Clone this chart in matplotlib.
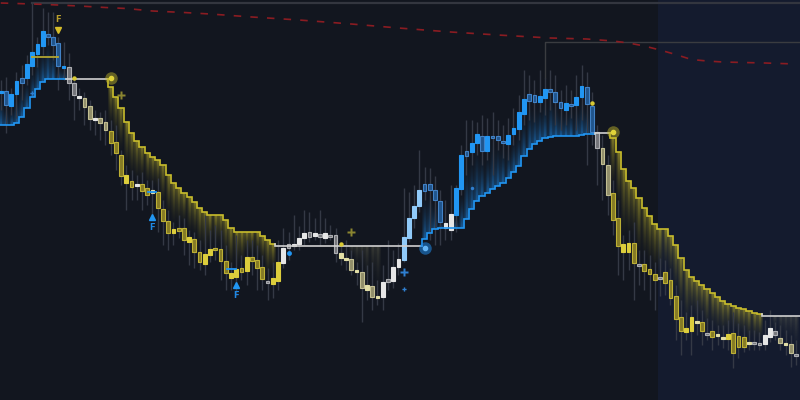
import numpy as np
import matplotlib
matplotlib.use('Agg')
import matplotlib.pyplot as plt
from matplotlib.colors import to_rgb

# Candles, in chart pixels (y grows downward), one per bar
body_top = [91, 91, 94, 81, 78, 64, 52, 44, 31, 34,
            37, 43, 66, 67, 83, 96, 98, 106, 118, 118,
            122, 131, 142, 155, 175, 181, 184, 184, 188, 190,
            192, 209, 221, 229, 228, 228, 237, 239, 252, 254,
            249, 248, 249, 261, 273, 269, 268, 257, 257, 260,
            267, 281, 278, 262, 248, 244, 244, 238, 233, 232,
            233, 234, 233, 235, 235, 253, 258, 259, 270, 272,
            285, 286, 296, 282, 279, 267, 259, 237, 218, 206,
            190, 184, 184, 190, 201, 223, 214, 188, 155, 151,
            143, 134, 136, 136, 136, 136, 141, 135, 128, 112,
            99, 94, 95, 96, 89, 89, 92, 102, 103, 104,
            97, 86, 87, 106, 132, 148, 165, 193, 218, 244,
            243, 243, 264, 264, 269, 274, 277, 272, 280, 296,
            317, 328, 317, 321, 322, 333, 331, 334, 337, 334,
            333, 336, 337, 342, 342, 343, 335, 328, 331, 338,
            343, 344, 354]
body_bottom = [93, 105, 106, 94, 83, 78, 66, 54, 46, 37,
               45, 66, 68, 83, 95, 98, 107, 119, 120, 123,
               130, 143, 153, 176, 183, 187, 185.5, 191, 195, 193,
               208, 221, 233, 233, 231, 240, 242, 252, 262, 264,
               255, 250, 261, 273, 278, 277, 272, 271, 261, 268,
               279, 282.5, 284, 281, 263, 248, 246, 244, 238, 237,
               236, 237, 238, 236.5, 253, 258, 260, 270, 272, 288,
               290, 297, 298, 297, 282, 281, 267, 260, 238, 218,
               206, 191, 190, 200, 222, 228, 230, 215, 189, 156,
               152, 143, 151, 151, 137.5, 140, 143, 144, 134, 129,
               114, 101, 102, 102, 98, 92, 102, 108, 110, 105.5,
               105, 97, 104, 132, 148, 164, 195, 220, 246, 252,
               252, 263, 265.5, 271, 274, 280, 278.5, 283, 298, 319,
               331, 332, 331, 322.5, 331, 334.5, 337, 336, 339, 339,
               353, 347, 347, 343.5, 343.5, 344.5, 344, 337, 335, 343,
               344.5, 353, 355.5]
wick_top = [80, 77, 88, 72, 65, 55, 3, 37, 8, 12,
            12, 37, 42, 53, 78, 88, 92, 100, 110, 112,
            110, 120, 125, 150, 165, 170, 175, 172, 180, 180,
            178, 200, 210, 222, 215, 218, 230, 232, 240, 215,
            230, 225, 230, 245, 262, 235, 255, 240, 240, 245,
            255, 268, 262, 240, 228, 232, 215, 226, 210, 212,
            218, 210, 218, 225, 228, 245, 240, 250, 262, 250,
            265, 262, 280, 265, 240, 250, 243, 188, 192, 185,
            150, 167, 168, 176, 190, 200, 185, 185, 145, 120,
            120, 122, 115, 118, 112, 120, 125, 118, 108, 95,
            70, 75, 80, 70, 78, 70, 75, 90, 85, 90,
            75, 65, 72, 92, 125, 135, 155, 180, 200, 235,
            230, 222, 250, 250, 255, 262, 258, 260, 268, 285,
            300, 312, 305, 300, 310, 318, 320, 325, 325, 320,
            312, 323, 325, 330, 330, 332, 320, 310, 322, 325,
            330, 335, 340]
wick_bottom = [110, 133, 115, 118, 100, 85, 75, 67, 55, 45,
               60, 90, 80, 100, 120, 110, 125, 130, 135, 140,
               145, 155, 170, 185, 210, 200, 200, 210, 205, 215,
               232, 245, 250, 245, 238, 255, 265, 268, 270, 275,
               262, 260, 280, 290, 290, 295, 280, 285, 275, 290,
               290, 300, 298, 290, 268, 260, 250, 250, 245, 242,
               240, 245, 243, 240, 262, 265, 270, 275, 285, 322,
               300, 310, 305, 310, 290, 288, 275, 262, 242, 228,
               212, 200, 240, 245, 245, 240, 240, 232, 195, 175,
               165, 155, 165, 160, 175, 150, 158, 160, 145, 140,
               125, 120, 122, 112, 115, 110, 125, 130, 125, 118,
               130, 120, 165, 145, 185, 200, 215, 235, 275, 280,
               270, 300, 285, 290, 300, 310, 296, 295, 305, 340,
               355, 340, 355, 335, 345, 340, 350, 345, 348, 350,
               368, 358, 352, 350, 350, 350, 350, 342, 340, 350,
               355, 367, 365]
# B/b blue strong/weak, L light blue, W/g white/grey, P/p pale, Y/y yellow strong/weak
candle_style = ("BbBBbBBBBb" "bbBggWppWp" "pyyyYyWyyP" "yyyYyyYyyY"
                "YyyyYYyYyy" "ygYYWgWWWg" "WgWggPPpPp" "PpPWgWWLLL"
                "LbbbbWWBBb" "BBbBbbbBBB" "BbbBBbbbBb" "BBbbgppyyY"
                "Yygyyygyyy" "yYYPygyPPY" "yyyPggWWgp" "Ppg")

# trailing stop, one value per bar
stop_level = [125, 125, 125, 123, 117, 108, 97, 89, 82, 79,
              79, 79, 79, 79, 79, 79, 79, 79, 79, 79,
              79, 87, 97, 108, 122, 133, 141, 147, 153, 157,
              160, 165, 175, 183, 188, 193, 197, 202, 208, 212,
              215, 215, 215, 220, 228, 232, 232, 232, 232, 232,
              236, 240, 244, 246, 246, 246, 246, 246, 246, 246,
              246, 246, 246, 246, 246, 246, 246, 246, 246, 246,
              246, 246, 246, 246, 246, 246, 246, 246, 246, 246,
              246, 239, 233, 229, 228, 228, 228, 228, 228, 219,
              209, 201, 196, 193, 189, 186, 183, 178, 172, 166,
              156, 149, 144, 141, 138, 137, 136, 136, 136, 136,
              136, 135, 134, 134, 133, 133, 133, 138, 152, 169,
              181, 188, 198, 208, 216, 224, 229, 229, 236, 245,
              258, 270, 277, 281, 285, 289, 293, 297, 301, 304,
              306, 308, 309, 311, 313, 314, 316, 316, 316, 316,
              316, 316, 316]
# (first bar, last bar, direction) 1 = up, -1 = down, 0 = flat
trend_segments = [(0, 12, 1), (13, 20, 0), (21, 52, -1), (53, 80, 0),
                  (81, 113, 1), (114, 116, 0), (117, 145, -1), (146, 152, 0)]
faint_glow = [67, 68, 69, 70, 71, 72, 148, 149, 150, 151, 152]

ema_index = [0, 6, 11, 15, 20, 24, 29, 35, 40, 48, 57, 67, 76, 86, 95,
             105, 112, 117, 120, 123, 126, 129, 132, 135, 138, 142, 146, 152]
ema_level = [3, 4, 5, 6, 7.5, 8.5, 11, 12.5, 14, 17, 20, 24, 28, 32, 35,
             38, 39, 41, 43, 46, 50, 54.5, 59.5, 61, 62, 62.5, 63, 64]

BG = '#12161f'
STYLE = {
    'B': ('#2196f3', '#2196f3'),
    'b': ('#21558c', '#4282c6'),
    'L': ('#90caf9', '#90caf9'),
    'W': ('#e6e6e6', '#e6e6e6'),
    'g': ('#74757a', '#adaeb2'),
    'P': ('#e2dea6', '#e2dea6'),
    'p': ('#918e6a', '#c2be92'),
    'Y': ('#dccd3c', '#dccd3c'),
    'y': ('#857b26', '#bdb034'),
}
LINE = {1: '#2196f3', -1: '#c9bd2c', 0: '#d0d0d0'}
GLOW = {1: '#1e88e5', -1: '#c2b52c', 0: '#cfc98a'}

n = len(body_top)
trend = np.zeros(n, dtype=int)
for a, b, d in trend_segments:
    trend[a:b + 1] = d

fig = plt.figure(figsize=(8, 4), dpi=100)
fig.patch.set_facecolor(BG)
ax = fig.add_axes([0, 0, 1, 1])
ax.set_facecolor(BG)
ax.axvspan(125.6, 160, color='#141b2e', zorder=0, lw=0)

fade = np.linspace(1, 0, 64) ** 1.8
across = np.array([0.35, 1.0, 1.0, 0.35])


def glow(i, y0, y1, color, alpha):
    img = np.zeros((64, 4, 4))
    img[..., :3] = to_rgb(color)
    img[..., 3] = alpha * fade[:, None] * across[None, :]
    ax.imshow(img, extent=(i - 0.5, i + 0.5, y0, y1), origin='lower',
              aspect='auto', interpolation='bilinear', zorder=1)


for i in range(n):
    d = trend[i]
    if d == 1 and body_bottom[i] < stop_level[i]:
        glow(i, stop_level[i], body_bottom[i], GLOW[1], 0.6)
    elif d == -1 and body_top[i] > stop_level[i]:
        glow(i, stop_level[i], body_top[i], GLOW[-1], 0.6)
    elif i in faint_glow and body_top[i] > stop_level[i]:
        glow(i, stop_level[i], body_top[i], GLOW[0], 0.2)

# reference lines
ax.plot([6, 160], [3, 3], color='#33363f', lw=1.6, zorder=2)
ax.plot([104, 104, 160], [78, 42, 42], color='#3a3c40', lw=1, zorder=2)
ax.plot(ema_index, ema_level, color='#8a1c22', lw=1.2, ls=(0, (4.5, 5.5)), zorder=2)

# candles
idx = np.arange(n)
ax.vlines(idx, wick_top, wick_bottom, color='#343945', lw=1, zorder=3)
for i in range(n):
    face, edge = STYLE[candle_style[i]]
    h = max(body_bottom[i] - body_top[i], 1.3)
    ax.bar(i, h, bottom=body_top[i], width=0.72, color=face,
           edgecolor=edge, linewidth=0.8, zorder=4)

# trailing stop
prev = None
for a, b, d in trend_segments:
    xs, ys = [], []
    if prev is not None:
        xs.append(a - 0.5)
        ys.append(prev)
    for i in range(a, b + 1):
        xs += [i - 0.5, i + 0.5]
        ys += [stop_level[i], stop_level[i]]
    if d == 0 and b == n - 1:
        xs[-1] = n + 2
    ax.plot(xs, ys, color=LINE[d], lw=1.2, zorder=5, solid_joinstyle='miter')
    prev = stop_level[b]

# markers
ax.plot(21, 78, 'o', ms=9, color='#c9bd2c', alpha=0.45, mec='none', zorder=6)
ax.plot(21, 78, 'o', ms=3, color='#e0d33a', zorder=6)
ax.plot(117, 132, 'o', ms=9, color='#c9bd2c', alpha=0.45, mec='none', zorder=6)
ax.plot(117, 132, 'o', ms=3, color='#e0d33a', zorder=6)
ax.plot(81, 248, 'o', ms=9, color='#1e88e5', alpha=0.55, mec='none', zorder=6)
ax.plot(81, 248, 'o', ms=3, color='#64b5f6', zorder=6)

ax.plot([6, 11], [57, 57], color='#b3a632', lw=1.3, zorder=6)
ax.plot([28.2, 29.7], [192, 192], color='#2196f3', lw=1.3, zorder=6)
ax.plot([43.2, 45], [269, 269], color='#2196f3', lw=1.3, zorder=6)

ax.plot(11, 30, 'v', ms=4.5, color='#d6bd2a', zorder=6)
ax.text(11, 20, 'F', color='#b99f2c', fontsize=6, fontweight='bold',
        ha='center', va='center', zorder=6)
for i, y in [(29, 217), (45, 285)]:
    ax.plot(i, y, '^', ms=4.5, color='#2196f3', zorder=6)
    ax.text(i, y + 10, 'F', color='#1e88e5', fontsize=6, fontweight='bold',
            ha='center', va='center', zorder=6)

ax.plot(23, 95, 'P', ms=6, color='#8a8530', mec='none', zorder=6)
ax.plot(67, 232, 'P', ms=6, color='#8a8530', mec='none', zorder=6)
ax.plot(77, 272, 'P', ms=6, color='#2f7fd0', mec='none', zorder=6)
ax.plot(77, 289, 'P', ms=3, color='#2f7fd0', mec='none', zorder=6)
ax.plot(6, 93, 'P', ms=3, color='#2f7fd0', mec='none', zorder=6)
ax.plot(90, 188, 'o', ms=2.5, color='#2f7fd0', mec='none', zorder=6)
ax.plot(55, 253, 'o', ms=3.5, color='#2196f3', mec='none', zorder=6)
for i, y in [(14, 78), (65, 244), (113, 103)]:
    ax.plot(i, y, 'o', ms=3.2, color='#d8c934', mec='none', zorder=6)

ax.set_xlim(-0.147, 152.76)
ax.set_ylim(400, 0)
ax.axis('off')
fig.savefig('out.png', dpi=100, facecolor=BG)
